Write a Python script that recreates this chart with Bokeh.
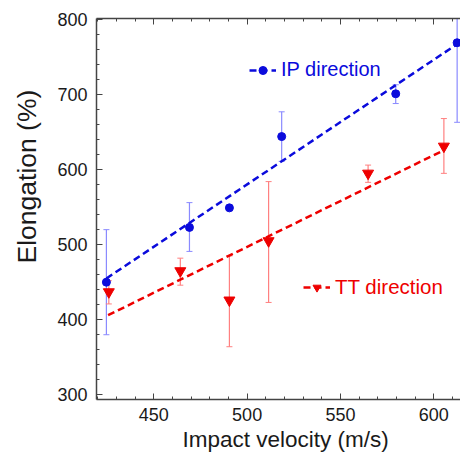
from bokeh.plotting import figure
from bokeh.models import (ColumnDataSource, Whisker, TeeHead, Legend, LegendItem,
                          Title, LinearAxis, Range1d, SingleIntervalTicker,
                          CustomLabelingPolicy)
from bokeh.embed import file_html
from bokeh.resources import INLINE

# ---- data ----
ip_velocity = [424.6, 469.1, 490.5, 518.5, 579.6, 612.5]
ip_elong = [450, 523, 549, 644, 701, 769]
ip_err_low = [380, 491, 549, 611, 688, 663]
ip_err_high = [520, 556, 549, 677, 713, 805]

tt_velocity = [425.9, 464.2, 490.5, 511.5, 564.8, 605.4]
tt_elong = [437, 465, 426, 505, 595, 631]
tt_err_low = [421, 446, 364, 423, 583, 595]
tt_err_high = [452, 482, 485, 584, 606, 668]

ip_fit_velocity = [424.6, 613.0]
ip_fit_elong = [455, 768]
tt_fit_velocity = [425.5, 605.5]
tt_fit_elong = [406, 626]

x_label = "Impact velocity (m/s)"
y_label = "Elongation (%)"
ip_name = "IP direction"
tt_name = "TT direction"

FONT = "Liberation Sans"
AX = "#444444"
TXT = "#1a1a1a"
BLUE = "#0b0bdc"
BLUE_ERR = "#8a8aff"
RED = "#ee0000"
RED_ERR = "#ff8080"

p = figure(width=460, height=460, output_backend="svg", toolbar_location=None,
           x_range=Range1d(419.3, 614.3), y_range=Range1d(293.7, 801.3),
           min_border_left=95, min_border_right=0, min_border_top=18,
           min_border_bottom=61)
p.outline_line_color = None
p.grid.visible = False
p.background_fill_color = "white"
p.border_fill_color = "white"

ip_src = ColumnDataSource(dict(x=ip_velocity, y=ip_elong, lo=ip_err_low, hi=ip_err_high))
tt_src = ColumnDataSource(dict(x=tt_velocity, y=tt_elong, lo=tt_err_low, hi=tt_err_high))

for src, col in ((ip_src, BLUE_ERR), (tt_src, RED_ERR)):
    w = Whisker(base="x", lower="lo", upper="hi", source=src, line_color=col, line_width=1.2,
                upper_head=TeeHead(size=6, line_color=col, line_width=1),
                lower_head=TeeHead(size=6, line_color=col, line_width=1))
    p.add_layout(w)

ip_line = p.line(ip_fit_velocity, ip_fit_elong, line_color=BLUE, line_width=2.5, line_dash="7 4")
tt_line = p.line(tt_fit_velocity, tt_fit_elong, line_color=RED, line_width=2.5, line_dash="7 4")
ip_pts = p.scatter("x", "y", source=ip_src, marker="circle", size=8, fill_color=BLUE, line_color=BLUE)
tt_pts = p.scatter("x", "y", source=tt_src, marker="inverted_triangle", size=11, fill_color=RED, line_color=RED)


def style_axis(ax):
    ax.axis_line_color = AX
    ax.axis_line_width = 1.5
    ax.major_tick_line_color = AX
    ax.minor_tick_line_color = AX
    ax.major_tick_in = 6
    ax.major_tick_out = 0
    ax.minor_tick_in = 3
    ax.minor_tick_out = 0
    ax.major_label_text_font = FONT
    ax.major_label_text_color = TXT
    ax.major_label_text_font_size = "18px"


xa = p.xaxis[0]
xa.ticker = SingleIntervalTicker(interval=50, num_minor_ticks=5)
style_axis(xa)
xa.major_label_standoff = 8

ya = p.yaxis[0]
ya.ticker = SingleIntervalTicker(interval=100, num_minor_ticks=5)
style_axis(ya)
ya.major_label_standoff = 9

# top spine with inward ticks, no labels
top = LinearAxis(ticker=SingleIntervalTicker(interval=50, num_minor_ticks=5))
style_axis(top)
top.major_label_text_font_size = "1px"
top.major_label_standoff = 0
top.major_label_policy = CustomLabelingPolicy(
    code="for (const i of Array.from(indices)) { indices.unset(i) }\nreturn indices")
p.add_layout(top, "above")

# axis titles
p.add_layout(Title(text=x_label, align="left", offset=86, vertical_align="top", standoff=6,
                   text_font=FONT, text_font_size="22.5px", text_font_style="normal",
                   text_color=TXT), "below")
p.add_layout(Title(text=y_label, align="left", offset=136, vertical_align="top", standoff=22,
                   text_font=FONT, text_font_size="26.5px", text_font_style="normal",
                   text_color=TXT), "left")

# legends
for name, rends, col, loc, fs in ((ip_name, [ip_line, ip_pts], BLUE, (153, 318), "20px"),
                                  (tt_name, [tt_line, tt_pts], RED, (207, 100), "20.5px")):
    lg = Legend(items=[LegendItem(label=name, renderers=rends)], location=loc,
                glyph_width=27, glyph_height=20, label_standoff=5, padding=0, margin=0,
                border_line_color=None, background_fill_alpha=0,
                label_text_font=FONT, label_text_font_size=fs, label_text_color=col)
    p.add_layout(lg)

open("out.html", "w").write(file_html(p, INLINE))
